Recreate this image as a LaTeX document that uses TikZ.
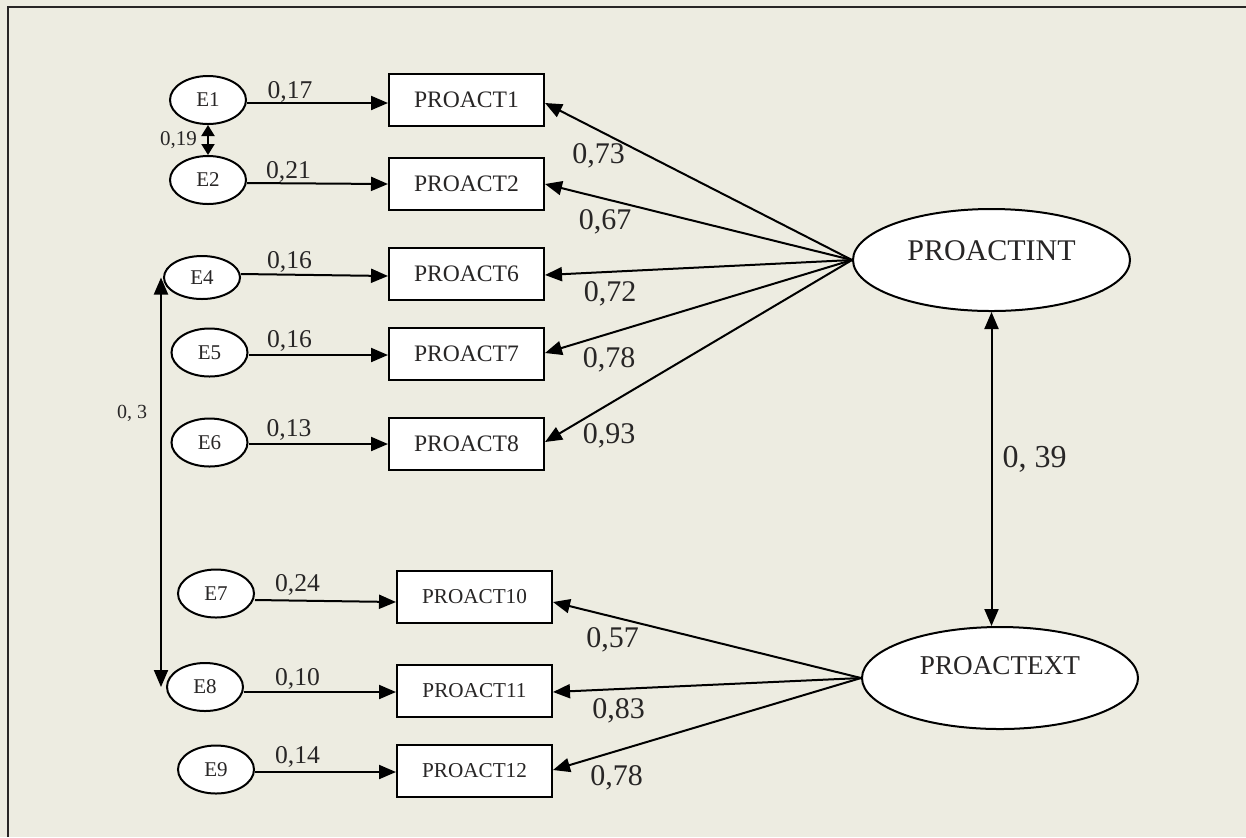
\documentclass[tikz,border=0pt]{standalone}
\usepackage{fontspec}
\setmainfont{Liberation Serif}
\usetikzlibrary{arrows.meta,shapes.geometric}
\definecolor{paper}{RGB}{237,236,225}
\definecolor{ink}{RGB}{40,38,38}
\begin{document}
\begin{tikzpicture}[x=0.5pt,y=-0.5pt,
  fs/.style={font=\fontsize{#1}{#1}\selectfont},
  obs/.style={draw, fill=white, line width=1pt, minimum width=77.5pt,
    minimum height=26pt, inner sep=0pt, text=ink},
  err/.style={ellipse, draw, fill=white, line width=1pt, minimum width=38pt,
    minimum height=24pt, inner sep=0pt, text=ink, fs=10.5pt},
  lat/.style={ellipse, draw, fill=white, line width=1pt, inner sep=0pt},
  reg/.style={-{Triangle[length=8.5pt,width=7pt]}, line width=1pt},
  cov/.style={{Triangle[length=8.5pt,width=7pt]}-{Triangle[length=8.5pt,width=7pt]}, line width=1pt},
  wt/.style={text=ink, anchor=base, inner sep=0pt},
]
% background and frame
\fill[paper] (0,0) rectangle (1246,837);
\useasboundingbox (0,0) rectangle (1246,837);
\draw[line width=1pt, ink] (7.5,837) -- (7.5,7) -- (1246,7);

% error terms
\node[err] (E1) at (208,100) {E1};
\node[err] (E2) at (208,180) {E2};
\node[err, minimum height=21.5pt] (E4) at (202,277.5) {E4};
\node[err] (E5) at (209.5,352.5) {E5};
\node[err] (E6) at (209.5,442.5) {E6};
\node[err] (E7) at (216,593.5) {E7};
\node[err] (E8) at (205,687) {E8};
\node[err] (E9) at (216,769.5) {E9};

% indicators
\node[obs, fs=11.8pt] (P1) at (466.5,100) {PROACT1};
\node[obs, fs=11.8pt] (P2) at (466.5,184) {PROACT2};
\node[obs, fs=11.8pt] (P6) at (466.5,274) {PROACT6};
\node[obs, fs=11.8pt] (P7) at (466.5,354) {PROACT7};
\node[obs, fs=11.8pt] (P8) at (466.5,444) {PROACT8};
\node[obs, fs=10.6pt] (P10) at (474.5,597) {PROACT10};
\node[obs, fs=10.6pt] (P11) at (474.5,691) {PROACT11};
\node[obs, fs=10.6pt] (P12) at (474.5,771) {PROACT12};

% latent factors
\node[lat, minimum width=138.5pt, minimum height=51pt,
  label={[fs=15pt, text=ink, yshift=4.75pt]center:PROACTINT}] (INT) at (991.5,260) {};
\node[lat, minimum width=138pt, minimum height=51pt,
  label={[fs=13.6pt, text=ink, yshift=6pt]center:PROACTEXT}] (EXT) at (1000,678) {};

% error paths
\draw[reg] ([yshift=-1.5pt]E1.east) -- ([yshift=-1.5pt]P1.west);
\draw[reg] ([yshift=-1.5pt]E2.east) -- (P2.west);
\draw[reg] ([yshift=1.75pt]E4.east) -- ([yshift=-1pt]P6.west);
\draw[reg] ([yshift=-1.25pt]E5.east) -- ([yshift=-0.5pt]P7.west);
\draw[reg] ([yshift=-0.75pt]E6.east) -- (P8.west);
\draw[reg] ([yshift=-3.25pt]E7.east) -- ([yshift=-2.5pt]P10.west);
\draw[reg] ([yshift=-2.5pt]E8.east) -- ([yshift=-0.5pt]P11.west);
\draw[reg] ([yshift=-1.25pt]E9.east) -- ([yshift=-0.5pt]P12.west);

% factor loadings
\draw[reg] (INT.west) -- ([yshift=-1.5pt]P1.east);
\draw[reg] (INT.west) -- (P2.east);
\draw[reg] (INT.west) -- ([yshift=-0.5pt]P6.east);
\draw[reg] (INT.west) -- ([yshift=0.5pt]P7.east);
\draw[reg] (INT.west) -- ([yshift=1pt]P8.east);
\draw[reg] (EXT.west) -- ([yshift=-2.5pt]P10.east);
\draw[reg] (EXT.west) -- ([yshift=-0.5pt]P11.east);
\draw[reg] (EXT.west) -- ([yshift=0.5pt]P12.east);

% covariances
\draw[{Triangle[length=5.5pt,width=6.5pt]}-{Triangle[length=5.5pt,width=6.5pt]}, line width=1pt]
  (E1.south) -- (E2.north);
\draw[cov] ([xshift=-1pt]E4.west) -- ([xshift=-1pt]E4.west |- E8.west);
\draw[cov] (INT.south) -- (INT.south |- EXT.north);

% path coefficients
\node[wt, fs=12.8pt] (w1) at (290,98) {0,17};
\node[wt, fs=12.8pt] (w2) at (288.5,178) {0,21};
\node[wt, fs=12.8pt] (w4) at (289.5,268) {0,16};
\node[wt, fs=12.8pt] (w5) at (289.5,347) {0,16};
\node[wt, fs=12.8pt] (w6) at (289,436) {0,13};
\node[wt, fs=12.8pt] (w7) at (297.5,591) {0,24};
\node[wt, fs=12.8pt] (w8) at (297.5,685) {0,10};
\node[wt, fs=12.8pt] (w9) at (297.5,763) {0,14};

\node[wt, fs=15pt] (l1) at (598.5,163) {0,73};
\node[wt, fs=15pt] (l2) at (605,229) {0,67};
\node[wt, fs=15pt] (l6) at (610,301) {0,72};
\node[wt, fs=15pt] (l7) at (609,367) {0,78};
\node[wt, fs=15pt] (l8) at (609,443) {0,93};
\node[wt, fs=15pt] (l10) at (612.5,647) {0,57};
\node[wt, fs=15pt] (l11) at (618.5,718) {0,83};
\node[wt, fs=15pt] (l12) at (616.5,785) {0,78};

\node[wt, fs=10.5pt] (c12) at (178.5,145) {0,19};
\node[wt, fs=10pt] (c48) at (132,418) {0, 3};
\node[wt, fs=16pt] (cf) at (1034.5,467) {0, 39};
\end{tikzpicture}
\end{document}
